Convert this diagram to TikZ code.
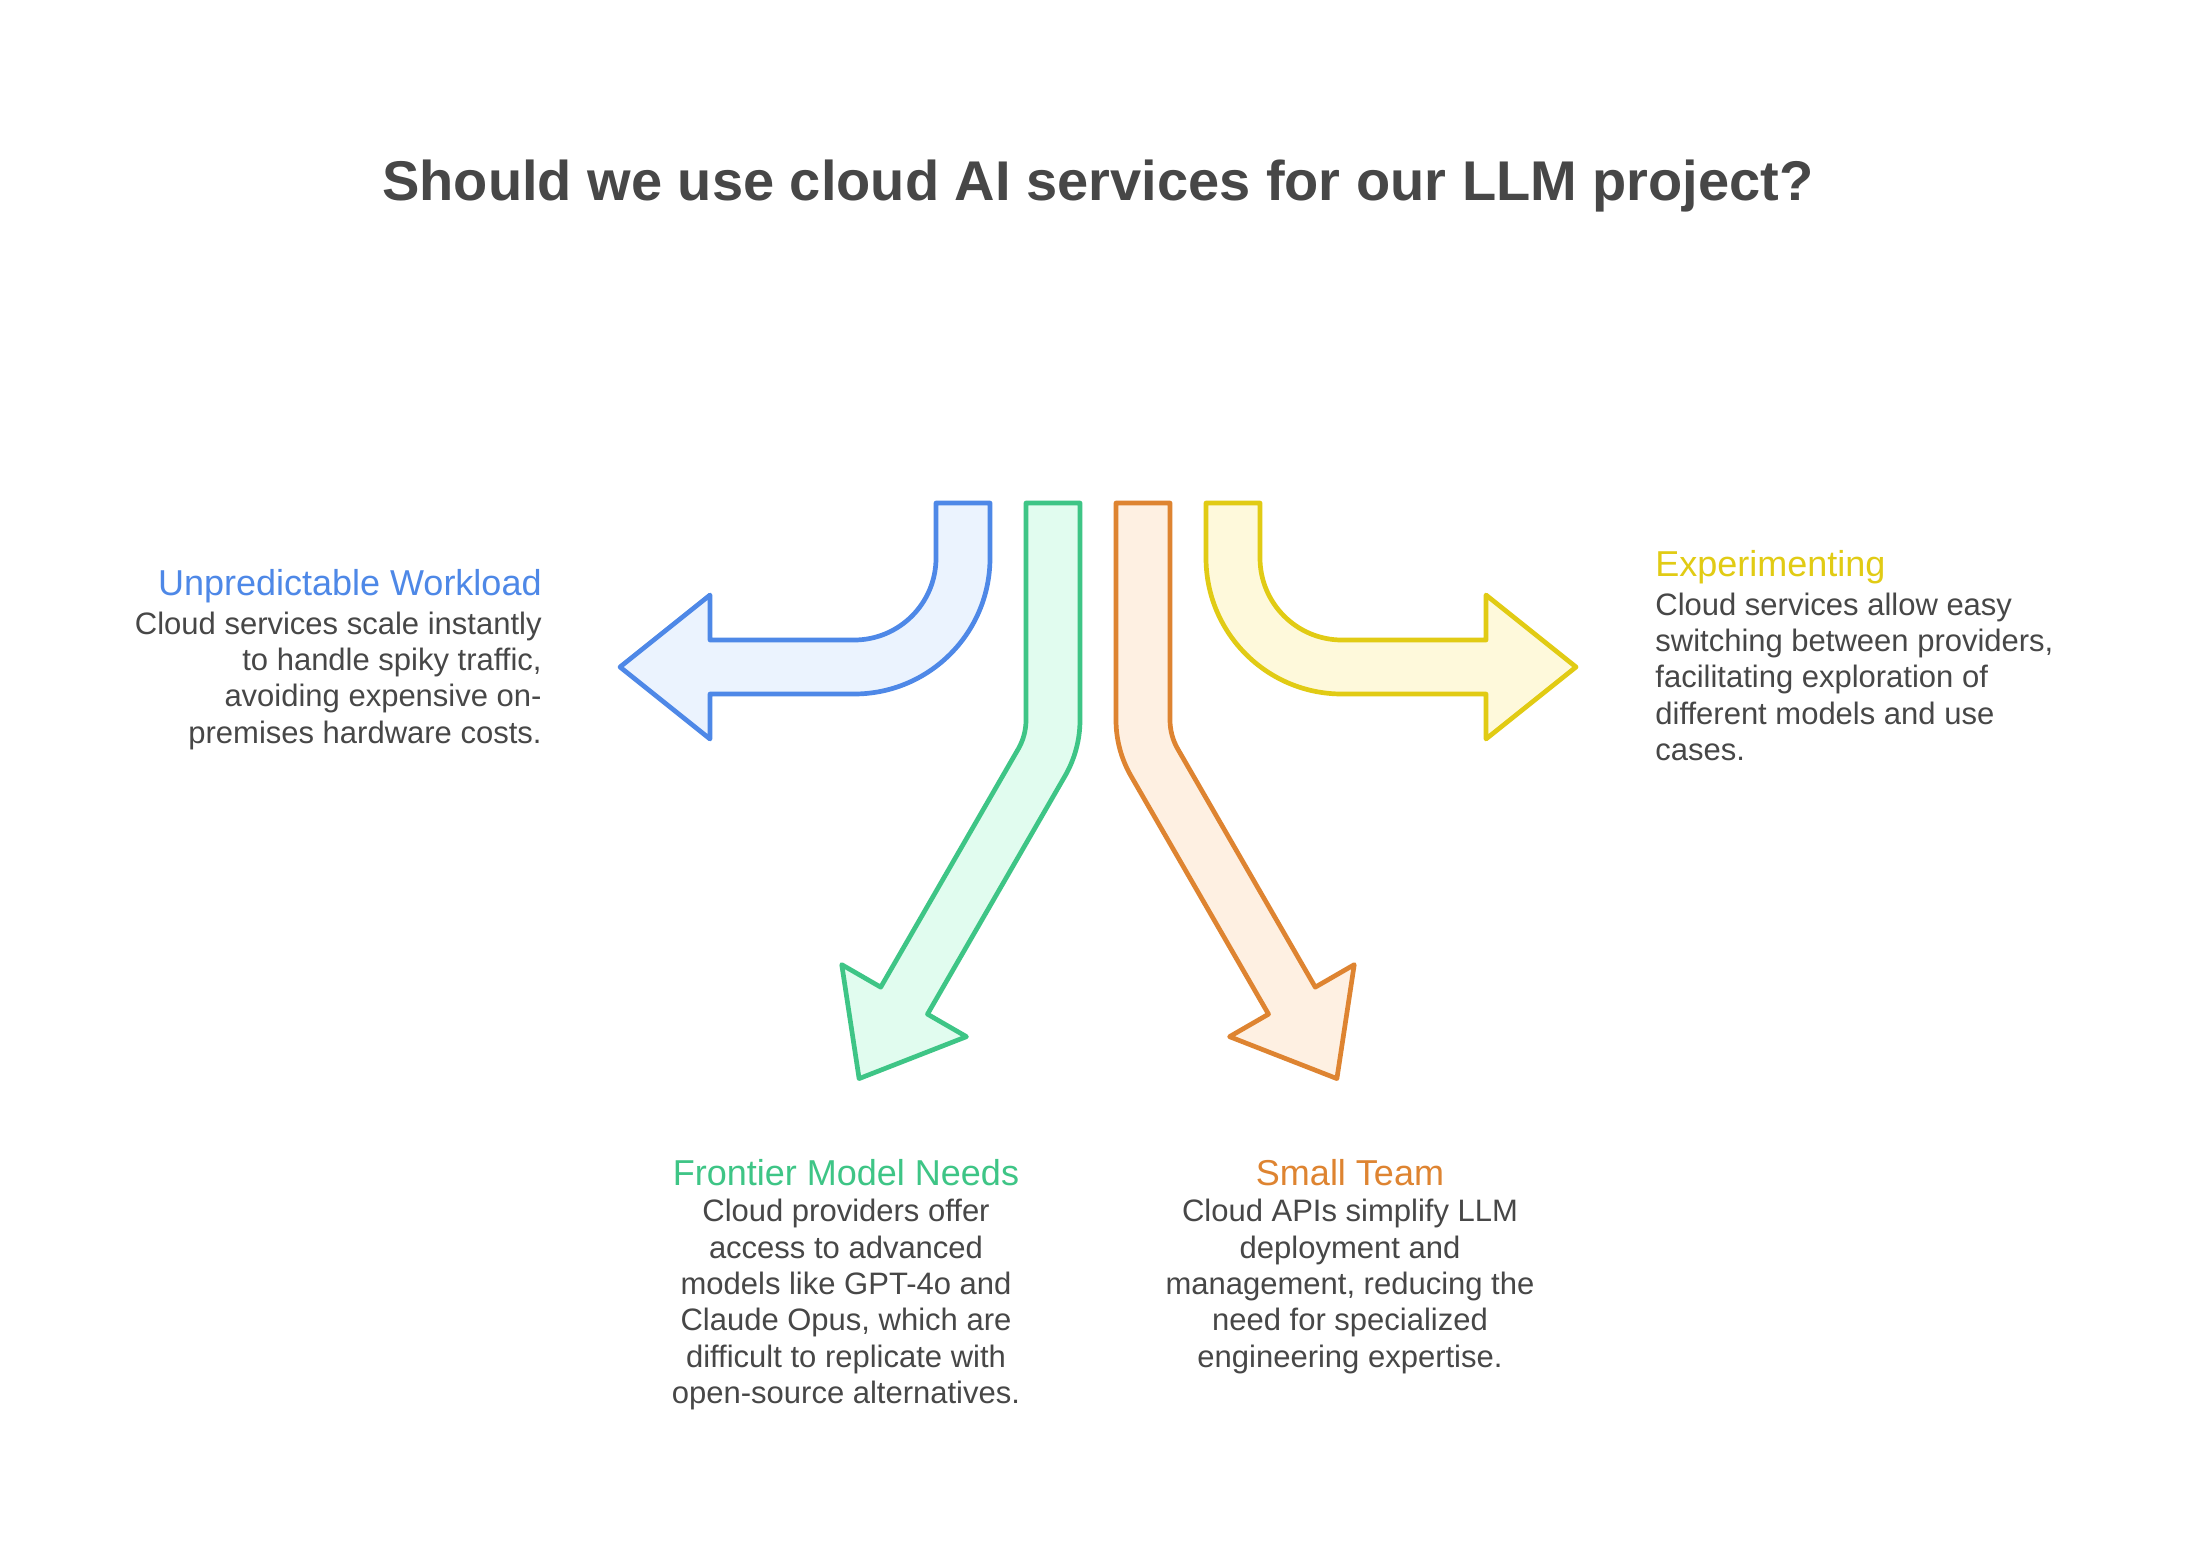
\documentclass[tikz,border=0pt]{standalone}
\usepackage{fontspec}
\setmainfont{Liberation Sans}
\definecolor{txtgray}{HTML}{474747}
\definecolor{bluestroke}{HTML}{4E88E7}
\definecolor{bluefill}{HTML}{EBF3FE}
\definecolor{greenstroke}{HTML}{3EC586}
\definecolor{greenfill}{HTML}{E1FCEF}
\definecolor{orangestroke}{HTML}{DE8431}
\definecolor{orangefill}{HTML}{FEF0E2}
\definecolor{yellowstroke}{HTML}{E1CB14}
\definecolor{yellowfill}{HTML}{FEF9DB}
\tikzset{
  bigarrow/.style={line width=2.35pt, line join=round},
  titletxt/.style={inner sep=0pt, text=txtgray, font=\fontsize{28}{34}\selectfont\bfseries},
  headtxt/.style={inner sep=0pt, font=\fontsize{18}{22}\selectfont},
  bodytxt/.style={inner sep=0pt, text=txtgray, font=\fontsize{15.5}{18.2}\selectfont},
}
\begin{document}
\begin{tikzpicture}[x=0.5pt, y=-0.5pt]
\fill[white] (0,0) rectangle (2196,1554);
\useasboundingbox (0,0) rectangle (2196,1554);

% title
\node[titletxt, anchor=base] (title) at (1098,200.7) {Should we use cloud AI services for our LLM project?};

% blue arrow
\draw[bigarrow, draw=bluestroke, fill=bluefill]
  (936,503) -- (990,503) -- (990,558)
  .. controls (990,633.1) and (929.1,694) .. (854,694)
  -- (710,694) -- (710,739) -- (620,667) -- (710,595) -- (710,640) -- (854,640)
  .. controls (899.3,640) and (936,603.3) .. (936,558) -- cycle;

% yellow arrow
\draw[bigarrow, draw=yellowstroke, fill=yellowfill]
  (1260,503) -- (1206,503) -- (1206,558)
  .. controls (1206,633.1) and (1266.9,694) .. (1342,694)
  -- (1486,694) -- (1486,739) -- (1576,667) -- (1486,595) -- (1486,640) -- (1342,640)
  .. controls (1296.7,640) and (1260,603.3) .. (1260,558) -- cycle;

% green arrow
\draw[bigarrow, draw=greenstroke, fill=greenfill]
  (1026,503) -- (1080,503) -- (1080,720)
  .. controls (1080,739.66) and (1074.82,758.97) .. (1064.99,776)
  -- (927.49,1014.15) -- (966.46,1036.65) -- (859.11,1078.59) -- (841.76,964.65) -- (880.73,987.15)
  -- (1018.23,749) .. controls (1023.32,740.18) and (1026,730.18) .. (1026,720) -- cycle;

% orange arrow
\draw[bigarrow, draw=orangestroke, fill=orangefill]
  (1170,503) -- (1116,503) -- (1116,720)
  .. controls (1116,739.66) and (1121.18,758.97) .. (1131.01,776)
  -- (1268.51,1014.15) -- (1229.54,1036.65) -- (1336.89,1078.59) -- (1354.24,964.65) -- (1315.27,987.15)
  -- (1177.77,749) .. controls (1172.68,740.18) and (1170,730.18) .. (1170,720) -- cycle;

% Unpredictable Workload (left)
\node[headtxt, text=bluestroke, anchor=base east] (wlhead) at (542,595) {Unpredictable Workload};
\foreach \txt [count=\i] in {{Cloud services scale instantly},{to handle spiky traffic,},{avoiding expensive on-},{premises hardware costs.}}
  \node[bodytxt, anchor=base east] (wlb\i) at (542,{634+36.4*(\i-1)}) {\txt};

% Experimenting (right)
\node[headtxt, text=yellowstroke, anchor=base west] (exhead) at (1655,576.7) {Experimenting};
\foreach \txt [count=\i] in {{Cloud services allow easy},{switching between providers,},{facilitating exploration of},{different models and use},{cases.}}
  \node[bodytxt, anchor=base west] (exb\i) at (1655,{615+36.4*(\i-1)}) {\txt};

% Frontier Model Needs (bottom left)
\node[headtxt, text=greenstroke, anchor=base] (frhead) at (846,1185) {Frontier Model Needs};
\foreach \txt [count=\i] in {{Cloud providers offer},{access to advanced},{models like GPT-4o and},{Claude Opus, which are},{difficult to replicate with},{open-source alternatives.}}
  \node[bodytxt, anchor=base] (frb\i) at (846,{1221.7+36.4*(\i-1)}) {\txt};

% Small Team (bottom right)
\node[headtxt, text=orangestroke, anchor=base] (sthead) at (1350,1185) {Small Team};
\foreach \txt [count=\i] in {{Cloud APIs simplify LLM},{deployment and},{management, reducing the},{need for specialized},{engineering expertise.}}
  \node[bodytxt, anchor=base] (stb\i) at (1350,{1221.7+36.4*(\i-1)}) {\txt};
\end{tikzpicture}
\end{document}
